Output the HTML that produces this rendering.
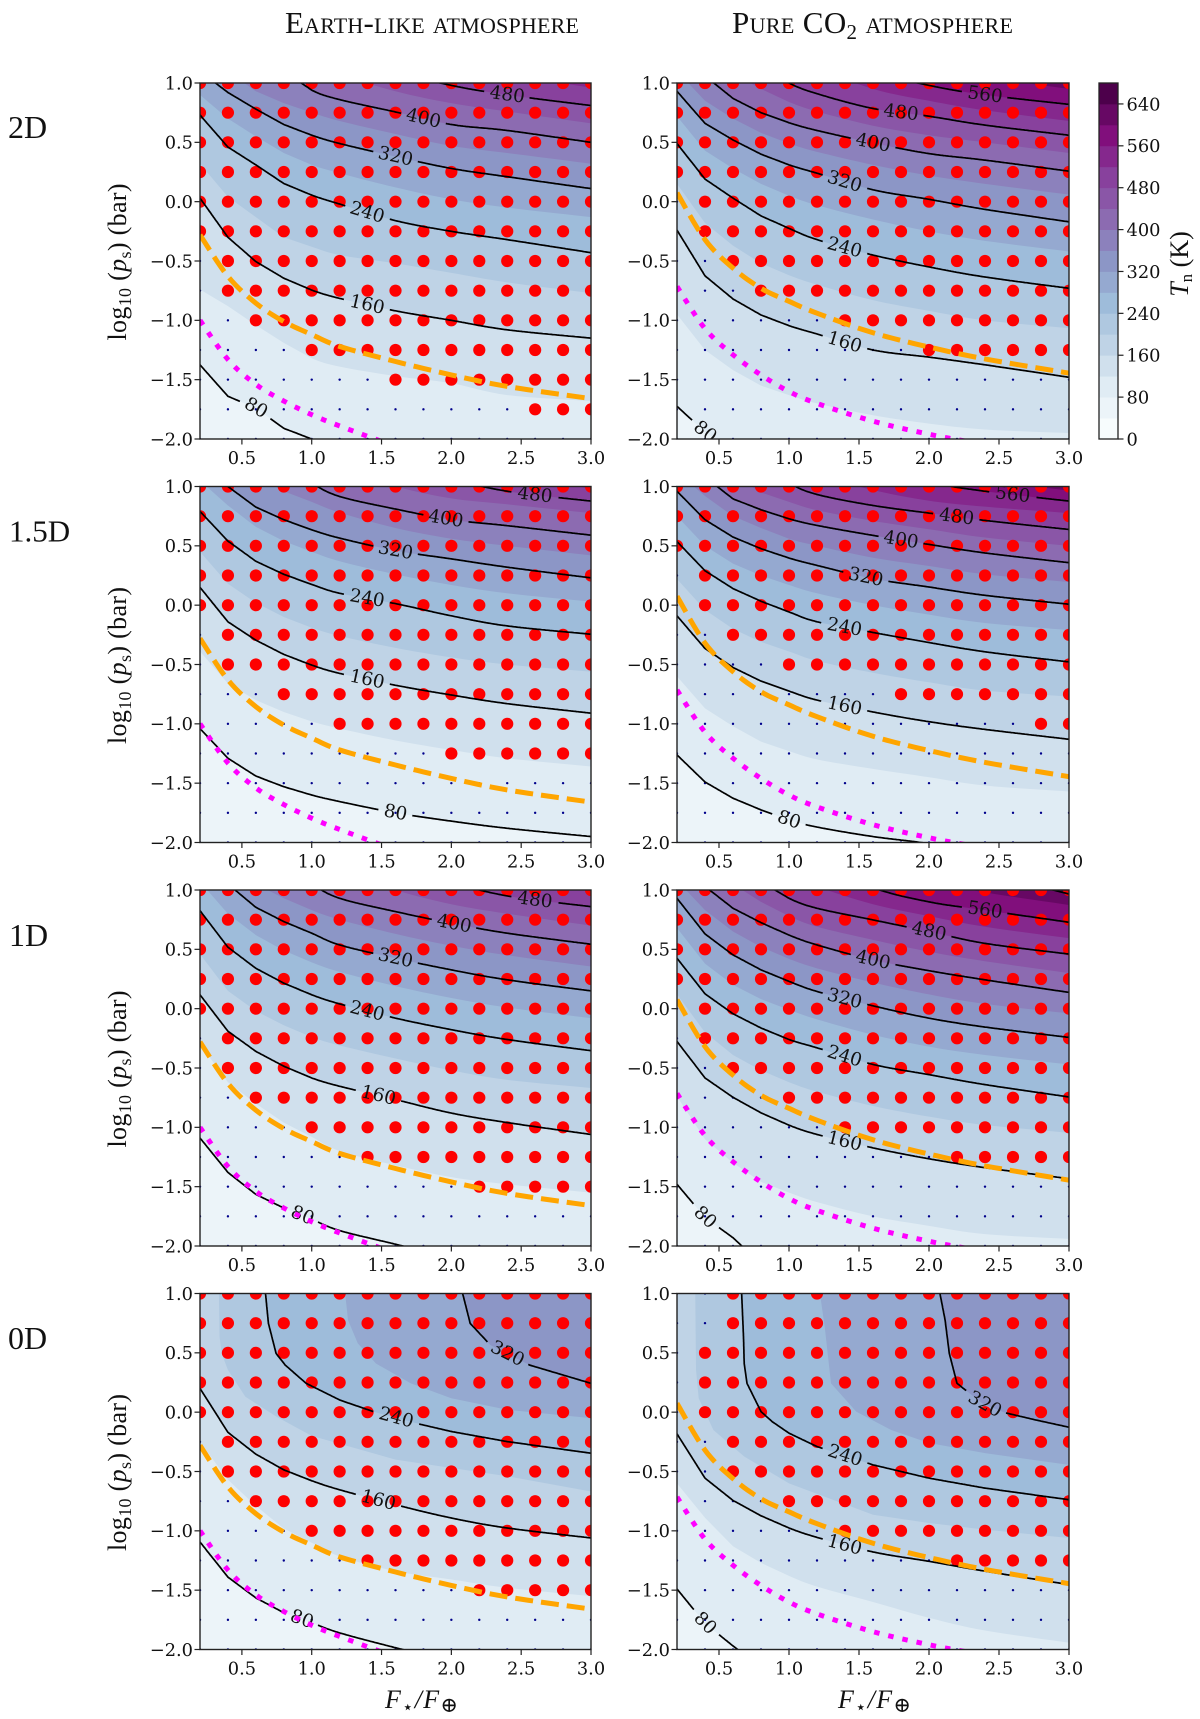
<!DOCTYPE html>
<html lang="en">
<head>
<meta charset="utf-8">
<title>Nightside temperature grid</title>
<style>
html,body{margin:0;padding:0;background:#fff;}
svg{display:block;}
.tick{font-family:"DejaVu Serif",serif;font-size:17.8px;fill:#111;}
.clabel{font-family:"DejaVu Serif",serif;font-size:18.4px;fill:#111;}
.serif{font-family:"Liberation Serif","DejaVu Serif",serif;fill:#111;}
</style>
</head>
<body>
<svg id="figure" xmlns="http://www.w3.org/2000/svg" width="1200" height="1719" viewBox="0 0 1200 1719">
  <rect width="1200" height="1719" fill="#fff"/>
  <text class="serif" x="285" y="33" font-size="31" textLength="294" style="font-variant:small-caps">Earth-like atmosphere</text>
  <text class="serif" x="732" y="33" font-size="31" textLength="281" style="font-variant:small-caps">Pure CO<tspan font-size="21" dy="6">2</tspan><tspan dy="-6"> atmosphere</tspan></text>
  <text class="serif" x="8" y="138" font-size="32">2D</text>
  <text class="serif" x="9" y="541.5" font-size="31">1.5D</text>
  <text class="serif" x="9" y="946" font-size="32">1D</text>
  <text class="serif" x="8" y="1349" font-size="32">0D</text>
  <text class="serif" x="385" y="1708" font-size="26" textLength="73"><tspan font-style="italic">F</tspan><tspan font-size="18" dy="5">⋆</tspan><tspan dy="-5" font-style="italic">/F</tspan><tspan font-size="21" dy="4">⊕</tspan></text>
  <text class="serif" x="838" y="1708" font-size="26" textLength="73"><tspan font-style="italic">F</tspan><tspan font-size="18" dy="5">⋆</tspan><tspan dy="-5" font-style="italic">/F</tspan><tspan font-size="21" dy="4">⊕</tspan></text>
  <text class="serif" x="0" y="0" font-size="26" text-anchor="middle" transform="translate(1188 264) rotate(-90)"><tspan font-style="italic">T</tspan><tspan font-size="17" dy="4">n</tspan><tspan dy="-4"> (K)</tspan></text>
  <g id="panels"></g>
  <g id="colorbar"></g>
</svg>
<script>
// Shared axes and grids
const fluxNodes = [0.2,0.4,0.6,0.8,1.0,1.2,1.6,2.0,2.4,3.0];
const fluxColumns = [0.2,0.4,0.6,0.8,1.0,1.2,1.4,1.6,1.8,2.0,2.2,2.4,2.6,2.8,3.0];
const pressureRows = [-2,-1.75,-1.5,-1.25,-1,-0.75,-0.5,-0.25,0,0.25,0.5,0.75,1];
const xTickValues = [0.5,1.0,1.5,2.0,2.5,3.0];
const yTickValues = [-2,-1.5,-1,-0.5,0,0.5,1];
const colorTickValues = [0,80,160,240,320,400,480,560,640];
const colorLevels = [0,40,80,120,160,200,240,280,320,360,400,440,480,520,560,600,640,680];
const paletteStops = ['#f7fcfd','#e0ecf4','#bfd3e6','#9ebcda','#8c96c6','#8c6bb1','#88419d','#810f7c','#4d004b'];

// Reference curves shared by atmosphere
const earthOrange = [-0.28,-0.63,-0.855,-1.01,-1.12,-1.22,-1.347,-1.46,-1.557,-1.66];
const co2Orange = [0.075,-0.32,-0.56,-0.73,-0.84,-0.94,-1.105,-1.225,-1.325,-1.445];
const earthMagenta = [-1.0,-1.33,-1.54,-1.68,-1.795,-1.89,-2.06,-2.2,-2.32,-2.48];
const co2Magenta = [-0.715,-1.07,-1.29,-1.46,-1.6,-1.7,-1.85,-1.96,-2.05,-2.2];

// Earth-like, 2D: isotherm log10(ps) at fluxNodes
const earth2d_T80 = [-1.375,-1.64,-1.74,-1.91,-2.0,-2.1,-2.3,-2.4,-2.5,-2.6];
const earth2d_T120 = [-0.74,-0.88,-1.04,-1.19,-1.32,-1.39,-1.47,-1.53,-1.63,-1.68];
const earth2d_T160 = [0.03,-0.30,-0.505,-0.645,-0.745,-0.815,-0.92,-1.0,-1.08,-1.15];
const earth2d_T200 = [0.32,0.04,-0.13,-0.3,-0.38,-0.45,-0.52,-0.6,-0.68,-0.77];
const earth2d_T240 = [0.73,0.46,0.31,0.153,0.055,-0.02,-0.16,-0.25,-0.32,-0.43];
const earth2d_T280 = [0.9,0.7,0.55,0.41,0.31,0.24,0.12,0.02,-0.05,-0.13];
const earth2d_T320 = [1.1,0.92,0.78,0.65,0.56,0.49,0.38,0.28,0.21,0.11];
const earth2d_T360 = [1.25,1.1,0.93,0.83,0.75,0.68,0.57,0.47,0.41,0.32];
const earth2d_T400 = [1.45,1.3,1.2,1.1,0.94,0.86,0.756,0.65,0.6,0.5];
const earth2d_T440 = [1.6,1.5,1.4,1.25,1.15,1.07,0.93,0.83,0.76,0.66];
const earth2d_T480 = [1.8,1.7,1.6,1.5,1.4,1.3,1.1,0.98,0.9,0.81];
const earth2d_T520 = [2.0,1.9,1.8,1.7,1.6,1.5,1.35,1.2,1.08,0.96];
const earth2d_red = [-0.25,-0.75,-1,-1,-1.25,-1.25,-1.25,-1.5,-1.5,-1.5,-1.5,-1.5,-1.75,-1.75,-1.75];

// Pure CO2, 2D
const co22d_T80 = [-1.725,-1.94,-2.1,-2.2,-2.3,-2.4,-2.5,-2.6,-2.7,-2.8];
const co22d_T120 = [-0.95,-1.25,-1.42,-1.55,-1.63,-1.7,-1.8,-1.87,-1.92,-1.95];
const co22d_T160 = [-0.24,-0.625,-0.82,-0.955,-1.045,-1.115,-1.25,-1.31,-1.375,-1.48];
const co22d_T200 = [0.15,-0.18,-0.37,-0.52,-0.62,-0.7,-0.83,-0.92,-1.0,-1.066];
const co22d_T240 = [0.49,0.19,0.03,-0.12,-0.225,-0.32,-0.45,-0.55,-0.635,-0.73];
const co22d_T280 = [0.72,0.43,0.28,0.15,0.05,-0.03,-0.15,-0.25,-0.33,-0.42];
const co22d_T320 = [0.93,0.66,0.52,0.4,0.31,0.24,0.1,0.02,-0.065,-0.17];
const co22d_T360 = [1.1,0.85,0.7,0.58,0.49,0.42,0.31,0.22,0.15,0.06];
const co22d_T400 = [1.25,1.06,0.87,0.75,0.665,0.6,0.495,0.405,0.35,0.257];
const co22d_T440 = [1.5,1.25,1.08,0.95,0.84,0.76,0.64,0.56,0.5,0.41];
const co22d_T480 = [1.75,1.5,1.3,1.15,1.0,0.91,0.785,0.72,0.645,0.56];
const co22d_T520 = [1.95,1.75,1.55,1.4,1.25,1.13,0.95,0.85,0.77,0.68];
const co22d_T560 = [2.2,2.0,1.8,1.6,1.45,1.3,1.1,0.98,0.9,0.82];
const co22d_T600 = [2.5,2.3,2.1,1.9,1.7,1.55,1.3,1.15,1.05,0.95];
const co22d_red = [0.25,-0.25,-0.5,-0.75,-0.75,-0.75,-1,-1,-1,-1.25,-1.25,-1.25,-1.25,-1.25,-1.25];

// Earth-like, 1.5D
const earth15d_T80 = [-1.04,-1.29,-1.44,-1.53,-1.6,-1.655,-1.75,-1.82,-1.88,-1.95];
const earth15d_T120 = [-0.39,-0.66,-0.8,-0.9,-0.98,-1.04,-1.14,-1.22,-1.29,-1.36];
const earth15d_T160 = [0.15,-0.14,-0.295,-0.415,-0.505,-0.575,-0.675,-0.757,-0.83,-0.91];
const earth15d_T200 = [0.45,0.18,0.02,-0.1,-0.19,-0.26,-0.36,-0.44,-0.5,-0.56];
const earth15d_T240 = [0.79,0.54,0.37,0.26,0.175,0.1,0.013,-0.09,-0.175,-0.245];
const earth15d_T280 = [1.05,0.84,0.66,0.54,0.45,0.37,0.26,0.17,0.1,0.03];
const earth15d_T320 = [1.3,1.0,0.826,0.72,0.635,0.565,0.46,0.39,0.32,0.23];
const earth15d_T360 = [1.5,1.3,1.1,0.96,0.87,0.78,0.65,0.56,0.5,0.42];
const earth15d_T400 = [1.8,1.6,1.4,1.2,1.03,0.916,0.81,0.72,0.67,0.59];
const earth15d_T440 = [1.9,1.7,1.55,1.4,1.25,1.15,1.0,0.9,0.85,0.776];
const earth15d_T480 = [2.3,2.1,1.95,1.75,1.6,1.45,1.25,1.07,0.96,0.877];
const earth15d_T520 = [2.6,2.4,2.2,2.0,1.8,1.7,1.45,1.25,1.12,0.98];
const earth15d_red = [0,-0.5,-0.5,-0.75,-0.75,-1,-1,-1,-1,-1.25,-1.25,-1.25,-1.25,-1.25,-1.25];

// Pure CO2, 1.5D
const co215d_T80 = [-1.262,-1.49,-1.627,-1.725,-1.81,-1.87,-1.95,-2.01,-2.1,-2.2];
const co215d_T120 = [-0.6,-0.87,-1.02,-1.15,-1.23,-1.3,-1.38,-1.45,-1.52,-1.57];
const co215d_T160 = [-0.09,-0.365,-0.525,-0.64,-0.724,-0.8,-0.9,-0.982,-1.047,-1.13];
const co215d_T200 = [0.22,-0.04,-0.2,-0.31,-0.39,-0.47,-0.57,-0.65,-0.72,-0.77];
const co215d_T240 = [0.536,0.29,0.14,0.033,-0.057,-0.14,-0.23,-0.315,-0.393,-0.478];
const co215d_T280 = [0.75,0.5,0.35,0.25,0.17,0.1,0,-0.08,-0.15,-0.21];
const co215d_T320 = [0.96,0.72,0.574,0.476,0.397,0.335,0.223,0.153,0.083,0.008];
const co215d_T360 = [1.12,0.92,0.75,0.65,0.56,0.5,0.4,0.33,0.26,0.195];
const co215d_T400 = [1.3,1.08,0.896,0.804,0.728,0.672,0.588,0.512,0.44,0.358];
const co215d_T440 = [1.5,1.3,1.1,0.95,0.87,0.8,0.71,0.64,0.57,0.5];
const co215d_T480 = [1.8,1.6,1.4,1.2,1.03,0.933,0.84,0.776,0.714,0.638];
const co215d_T520 = [1.9,1.7,1.5,1.35,1.2,1.1,0.97,0.88,0.83,0.776];
const co215d_T560 = [2.3,2.1,1.9,1.7,1.55,1.4,1.2,1.04,0.96,0.877];
const co215d_T600 = [2.5,2.3,2.1,1.9,1.75,1.6,1.35,1.15,1.05,0.966];
const co215d_red = [0.5,0,-0.25,-0.25,-0.5,-0.5,-0.5,-0.5,-0.75,-0.75,-0.75,-0.75,-0.75,-1,-1];

// Earth-like, 1D
const earth1d_T80 = [-1.09,-1.38,-1.565,-1.68,-1.775,-1.87,-1.985,-2.1,-2.2,-2.3];
const earth1d_T120 = [-0.3,-0.62,-0.8,-0.96,-1.08,-1.2,-1.32,-1.42,-1.48,-1.55];
const earth1d_T160 = [0.117,-0.19,-0.36,-0.485,-0.584,-0.654,-0.766,-0.88,-0.96,-1.06];
const earth1d_T200 = [0.46,0.15,-0.02,-0.14,-0.24,-0.31,-0.42,-0.52,-0.6,-0.668];
const earth1d_T240 = [0.826,0.518,0.34,0.215,0.117,0.04,-0.08,-0.177,-0.26,-0.354];
const earth1d_T280 = [1.07,0.8,0.62,0.49,0.39,0.31,0.19,0.09,0.01,-0.08];
const earth1d_T320 = [1.3,1.05,0.854,0.734,0.636,0.537,0.425,0.327,0.243,0.15];
const earth1d_T360 = [1.5,1.25,1.05,0.93,0.83,0.75,0.63,0.53,0.45,0.355];
const earth1d_T400 = [1.85,1.6,1.4,1.2,1.05,0.93,0.818,0.72,0.636,0.543];
const earth1d_T440 = [1.9,1.7,1.55,1.4,1.27,1.17,1.0,0.88,0.8,0.7];
const earth1d_T480 = [2.3,2.1,1.95,1.75,1.6,1.45,1.25,1.07,0.95,0.86];
const earth1d_T520 = [2.6,2.4,2.2,2.0,1.8,1.7,1.45,1.25,1.12,0.99];
const earth1d_red = [0,-0.5,-0.75,-0.75,-1,-1,-1.25,-1.25,-1.25,-1.25,-1.5,-1.5,-1.5,-1.5,-1.5];

// Pure CO2, 1D
const co21d_T80 = [-1.48,-1.76,-1.93,-2.15,-2.3,-2.4,-2.5,-2.6,-2.7,-2.8];
const co21d_T120 = [-0.74,-1.1,-1.3,-1.46,-1.55,-1.63,-1.75,-1.83,-1.9,-1.94];
const co21d_T160 = [-0.276,-0.584,-0.747,-0.878,-0.982,-1.06,-1.173,-1.265,-1.34,-1.433];
const co21d_T200 = [0.12,-0.2,-0.39,-0.52,-0.62,-0.7,-0.82,-0.91,-0.98,-1.046];
const co21d_T240 = [0.425,0.125,-0.043,-0.163,-0.26,-0.33,-0.47,-0.556,-0.64,-0.744];
const co21d_T280 = [0.68,0.38,0.2,0.08,-0.01,-0.09,-0.22,-0.32,-0.39,-0.47];
const co21d_T320 = [0.93,0.63,0.453,0.327,0.23,0.145,0.024,-0.08,-0.155,-0.242];
const co21d_T360 = [1.08,0.83,0.65,0.52,0.42,0.34,0.22,0.12,0.04,-0.04];
const co21d_T400 = [1.25,1.03,0.846,0.725,0.62,0.537,0.41,0.32,0.243,0.137];
const co21d_T440 = [1.45,1.23,1.05,0.9,0.78,0.69,0.58,0.48,0.4,0.3];
const co21d_T480 = [1.7,1.45,1.25,1.07,0.93,0.846,0.748,0.65,0.55,0.46];
const co21d_T520 = [1.9,1.65,1.45,1.3,1.15,1.03,0.88,0.78,0.69,0.594];
const co21d_T560 = [2.2,1.95,1.75,1.55,1.4,1.25,1.02,0.9,0.83,0.728];
const co21d_T600 = [2.4,2.15,1.95,1.75,1.6,1.45,1.22,1.08,0.98,0.874];
const co21d_T640 = [2.6,2.4,2.2,2.0,1.85,1.7,1.45,1.3,1.15,0.966];
const co21d_red = [0.25,-0.25,-0.5,-0.5,-0.75,-0.75,-1,-1,-1,-1,-1.25,-1.25,-1.25,-1.25,-1.25];

// Earth-like, 0D: steep isotherms are [flux, log10(ps)] pairs
const earth0d_T80 = [-1.094,-1.39,-1.565,-1.69,-1.775,-1.86,-1.985,-2.1,-2.2,-2.3];
const earth0d_T120 = [-0.25,-0.57,-0.79,-0.98,-1.1,-1.215,-1.34,-1.41,-1.48,-1.55];
const earth0d_T160 = [0.2,-0.17,-0.354,-0.486,-0.578,-0.654,-0.78,-0.892,-0.976,-1.06];
const earth0d_T200 = [[0.335,1.05],[0.34,0.635],[0.355,0.495],[0.4,0.355],[0.525,0.13],[0.75,-0.04],[1,-0.2],[1.6,-0.4],[2.4,-0.54],[3,-0.668]];
const earth0d_T240 = [[0.665,1.05],[0.69,0.748],[0.745,0.495],[0.81,0.397],[0.96,0.243],[1.2,0.103],[1.44,0.005],[1.77,-0.1],[2,-0.163],[2.4,-0.248],[3,-0.346]];
const earth0d_T280 = [[1.235,1.05],[1.26,0.776],[1.33,0.58],[1.46,0.41],[1.71,0.243],[2,0.117],[2.4,0.02],[3,-0.05]];
const earth0d_T320 = [[2.07,1.05],[2.135,0.748],[2.28,0.565],[2.56,0.397],[3,0.243]];
const earth0d_red = [0,-0.5,-0.75,-0.75,-1,-1,-1.25,-1.25,-1.25,-1.25,-1.5,-1.5,-1.5,-1.5,-1.5];

// Pure CO2, 0D
const co20d_T80 = [-1.49,-1.78,-1.97,-2.15,-2.3,-2.4,-2.5,-2.6,-2.7,-2.8];
const co20d_T120 = [-0.6,-0.89,-1.13,-1.27,-1.38,-1.47,-1.6,-1.733,-1.84,-1.943];
const co20d_T160 = [-0.183,-0.556,-0.744,-0.873,-0.976,-1.055,-1.178,-1.257,-1.34,-1.453];
const co20d_T200 = [[0.33,1.05],[0.336,0.355],[0.355,0.117],[0.46,-0.15],[0.68,-0.374],[1,-0.6],[1.6,-0.864],[2,-0.934],[2.4,-0.99],[3,-1.06]];
const co20d_T240 = [[0.66,1.05],[0.675,0.635],[0.68,0.41],[0.7,0.243],[0.8,0.005],[0.88,-0.08],[1,-0.177],[1.2,-0.29],[1.6,-0.444],[2,-0.556],[2.4,-0.64],[3,-0.738]];
const co20d_T280 = [[1.215,1.05],[1.255,0.72],[1.3,0.243],[1.48,0.005],[1.73,-0.15],[2,-0.26],[2.4,-0.345],[3,-0.444]];
const co20d_T320 = [[2.07,1.05],[2.115,0.776],[2.145,0.495],[2.2,0.243],[2.38,0.075],[2.54,-0.004],[2.76,-0.065],[3,-0.127]];
const co20d_red = [2,0,-0.5,-0.5,-0.75,-0.75,-1,-1,-1,-1,-1.25,-1.25,-1.25,-1.25,-1.25];
const co20d_redTop = [1,0.5,1,1,1,1,1,1,1,1,1,1,1,1,1];

// Flux at which each inline contour label sits, in order of its level
const earth2d_labels = [[80,0.6],[160,1.4],[240,1.4],[320,1.6],[400,1.8],[480,2.4]];
const co22d_labels = [[80,0.4],[160,1.4],[240,1.4],[320,1.4],[400,1.6],[480,1.8],[560,2.4]];
const earth15d_labels = [[80,1.6],[160,1.4],[240,1.4],[320,1.6],[400,1.96],[480,2.6]];
const co215d_labels = [[80,1.0],[160,1.4],[240,1.4],[320,1.55],[400,1.8],[480,2.2],[560,2.6]];
const earth1d_labels = [[80,0.93],[160,1.48],[240,1.4],[320,1.6],[400,2.02],[480,2.6]];
const co21d_labels = [[80,0.4],[160,1.4],[240,1.4],[320,1.4],[400,1.6],[480,2.0],[560,2.4]];
const earth0d_labels = [[80,0.93],[160,1.48],[240,1.6],[320,2.4]];
const co20d_labels = [[80,0.4],[160,1.4],[240,1.4],[320,2.4]];

const NS = 'http://www.w3.org/2000/svg';
function make(tag, attrs, parent) {
  const el = document.createElementNS(NS, tag);
  for (const k in attrs) el.setAttribute(k, attrs[k]);
  parent.appendChild(el);
  return el;
}
function hexToRgb(h) {
  return [parseInt(h.slice(1,3),16),parseInt(h.slice(3,5),16),parseInt(h.slice(5,7),16)];
}
function bandColor(i) {
  const t = i / 2;
  const a = Math.min(Math.floor(t), paletteStops.length - 1);
  const b = Math.min(a + 1, paletteStops.length - 1);
  const f = t - a;
  const ca = hexToRgb(paletteStops[a]);
  const cb = hexToRgb(paletteStops[b]);
  return 'rgb(' + ca.map((v, k) => Math.round(v + (cb[k] - v) * f)).join(',') + ')';
}
// Catmull-Rom densification from segment index fromIdx onward; earlier segments stay straight
function densify(pts, fromIdx) {
  const out = [];
  for (let i = 0; i < pts.length - 1; i++) {
    if (i < fromIdx) { out.push(pts[i]); continue; }
    const p0 = pts[Math.max(0, i - 1)], p1 = pts[i], p2 = pts[i + 1], p3 = pts[Math.min(pts.length - 1, i + 2)];
    for (let k = 0; k < 8; k++) {
      const t = k / 8, t2 = t * t, t3 = t2 * t;
      out.push([0, 1].map(d => 0.5 * (2 * p1[d] + (p2[d] - p0[d]) * t + (2 * p0[d] - 5 * p1[d] + 4 * p2[d] - p3[d]) * t2 + (3 * p1[d] - p0[d] - 3 * p2[d] + p3[d]) * t3)));
    }
  }
  out.push(pts[pts.length - 1]);
  return out;
}
function toPairs(curve) {
  return typeof curve[0] === 'number' ? densify(fluxNodes.map((f, i) => [f, curve[i]]), 4) : curve;
}
function fmt(v) {
  return (v < 0 ? '\u2212' : '') + Math.abs(v).toFixed(1);
}

const panelTops = [83, 486.5, 890, 1293.5];
const panelLefts = [200, 677];
const panelWidths = [391, 392];
const panelHeight = 356;

const panelList = [
  {id:'earth-2d',row:0,col:0,red:earth2d_red,labels:earth2d_labels,orange:earthOrange,magenta:earthMagenta,
   curves:[[80,earth2d_T80],[120,earth2d_T120],[160,earth2d_T160],[200,earth2d_T200],[240,earth2d_T240],[280,earth2d_T280],[320,earth2d_T320],[360,earth2d_T360],[400,earth2d_T400],[440,earth2d_T440],[480,earth2d_T480],[520,earth2d_T520]]},
  {id:'co2-2d',row:0,col:1,red:co22d_red,labels:co22d_labels,orange:co2Orange,magenta:co2Magenta,
   curves:[[80,co22d_T80],[120,co22d_T120],[160,co22d_T160],[200,co22d_T200],[240,co22d_T240],[280,co22d_T280],[320,co22d_T320],[360,co22d_T360],[400,co22d_T400],[440,co22d_T440],[480,co22d_T480],[520,co22d_T520],[560,co22d_T560],[600,co22d_T600]]},
  {id:'earth-1-5d',row:1,col:0,red:earth15d_red,labels:earth15d_labels,orange:earthOrange,magenta:earthMagenta,
   curves:[[80,earth15d_T80],[120,earth15d_T120],[160,earth15d_T160],[200,earth15d_T200],[240,earth15d_T240],[280,earth15d_T280],[320,earth15d_T320],[360,earth15d_T360],[400,earth15d_T400],[440,earth15d_T440],[480,earth15d_T480],[520,earth15d_T520]]},
  {id:'co2-1-5d',row:1,col:1,red:co215d_red,labels:co215d_labels,orange:co2Orange,magenta:co2Magenta,
   curves:[[80,co215d_T80],[120,co215d_T120],[160,co215d_T160],[200,co215d_T200],[240,co215d_T240],[280,co215d_T280],[320,co215d_T320],[360,co215d_T360],[400,co215d_T400],[440,co215d_T440],[480,co215d_T480],[520,co215d_T520],[560,co215d_T560],[600,co215d_T600]]},
  {id:'earth-1d',row:2,col:0,red:earth1d_red,labels:earth1d_labels,orange:earthOrange,magenta:earthMagenta,
   curves:[[80,earth1d_T80],[120,earth1d_T120],[160,earth1d_T160],[200,earth1d_T200],[240,earth1d_T240],[280,earth1d_T280],[320,earth1d_T320],[360,earth1d_T360],[400,earth1d_T400],[440,earth1d_T440],[480,earth1d_T480],[520,earth1d_T520]]},
  {id:'co2-1d',row:2,col:1,red:co21d_red,labels:co21d_labels,orange:co2Orange,magenta:co2Magenta,
   curves:[[80,co21d_T80],[120,co21d_T120],[160,co21d_T160],[200,co21d_T200],[240,co21d_T240],[280,co21d_T280],[320,co21d_T320],[360,co21d_T360],[400,co21d_T400],[440,co21d_T440],[480,co21d_T480],[520,co21d_T520],[560,co21d_T560],[600,co21d_T600],[640,co21d_T640]]},
  {id:'earth-0d',row:3,col:0,red:earth0d_red,labels:earth0d_labels,orange:earthOrange,magenta:earthMagenta,
   curves:[[80,earth0d_T80],[120,earth0d_T120],[160,earth0d_T160],[200,earth0d_T200],[240,earth0d_T240],[280,earth0d_T280],[320,earth0d_T320]]},
  {id:'co2-0d',row:3,col:1,red:co20d_red,redTop:co20d_redTop,labels:co20d_labels,orange:co2Orange,magenta:co2Magenta,
   curves:[[80,co20d_T80],[120,co20d_T120],[160,co20d_T160],[200,co20d_T200],[240,co20d_T240],[280,co20d_T280],[320,co20d_T320]]}
];

function drawPanel(p) {
  const root = document.getElementById('panels');
  const left = panelLefts[p.col], top = panelTops[p.row], w = panelWidths[p.col], h = panelHeight;
  const xs = v => left + (v - 0.2) / 2.8 * w;
  const ys = v => top + (1 - v) / 3 * h;
  const pathOf = pts => pts.map((q, i) => (i ? 'L' : 'M') + xs(q[0]).toFixed(2) + ' ' + ys(q[1]).toFixed(2)).join('');

  const g = make('g', {}, root);
  
  

  const clipId = 'clip-' + p.id;
  const defs = make('defs', {}, g);
  const clip = make('clipPath', {id: clipId}, defs);
  make('rect', {x: left, y: top, width: w, height: h}, clip);

  const plot = make('g', {'clip-path': 'url(#' + clipId + ')'}, g);
  
  

  const base = make('rect', {x: left, y: top, width: w, height: h, fill: bandColor(1)}, plot);
  
  

  p.curves.forEach(c => {
    const pts = toPairs(c[1]);
    const closed = pts.concat([[pts[pts.length - 1][0], 3.5], [pts[0][0], 3.5]]);
    const band = make('path', {d: pathOf(closed) + 'Z', fill: bandColor(c[0] / 40)}, plot);
    
    
  });

  fluxColumns.forEach((f, ci) => {
    const floorP = p.red[ci];
    const ceilP = p.redTop ? p.redTop[ci] : 1;
    pressureRows.forEach(lp => {
      const isRed = lp >= floorP && lp <= ceilP;
      const dot = make('circle', {cx: xs(f), cy: ys(lp), r: isRed ? 6.1 : 1.2, fill: isRed ? '#fe0000' : '#00008b'}, plot);
      
      
    });
  });

  p.curves.filter(c => c[0] % 80 === 0).forEach(c => {
    const raw = toPairs(c[1]);
    const fine = [];
    for (let i = 0; i < raw.length - 1; i++) {
      const x0 = xs(raw[i][0]), y0 = ys(raw[i][1]), x1 = xs(raw[i + 1][0]), y1 = ys(raw[i + 1][1]);
      const n = Math.max(1, Math.ceil(Math.hypot(x1 - x0, y1 - y0) / 1.5));
      for (let k = 0; k < n; k++) fine.push([x0 + (x1 - x0) * k / n, y0 + (y1 - y0) * k / n]);
    }
    fine.push([xs(raw[raw.length - 1][0]), ys(raw[raw.length - 1][1])]);

    const lab = p.labels.find(l => l[0] === c[0]);
    let cx = null, cy = null, angle = 0, radius = 0;
    if (lab) {
      const target = xs(lab[1]);
      let best = 0;
      fine.forEach((q, i) => { if (Math.abs(q[0] - target) < Math.abs(fine[best][0] - target)) best = i; });
      cx = fine[best][0];
      cy = fine[best][1];
      const a = fine[Math.max(0, best - 9)], b = fine[Math.min(fine.length - 1, best + 9)];
      angle = Math.atan2(b[1] - a[1], b[0] - a[0]) * 180 / Math.PI;
      radius = String(c[0]).length * 5.8 + 5;
    }
    let d = '', pen = false;
    fine.forEach(q => {
      if (lab && Math.hypot(q[0] - cx, q[1] - cy) < radius) { pen = false; return; }
      d += (pen ? 'L' : 'M') + q[0].toFixed(1) + ' ' + q[1].toFixed(1);
      pen = true;
    });
    const line = make('path', {d: d, fill: 'none', stroke: '#000', 'stroke-width': 1.7}, plot);
    
    
    if (lab) {
      const t = make('text', {class: 'clabel', x: 0, y: 0, 'text-anchor': 'middle', 'dominant-baseline': 'central',
        transform: 'translate(' + cx.toFixed(1) + ' ' + cy.toFixed(1) + ') rotate(' + angle.toFixed(1) + ')'}, plot);
      t.textContent = String(c[0]);
      
      
    }
  });

  const orange = make('path', {d: pathOf(densify(fluxNodes.map((f, i) => [f, p.orange[i]]), 0)), fill: 'none', stroke: '#ffa500', 'stroke-width': 5, 'stroke-dasharray': '18 8'}, plot);
  
  
  const magenta = make('path', {d: pathOf(densify(fluxNodes.map((f, i) => [f, p.magenta[i]]), 0)), fill: 'none', stroke: '#ff00ff', 'stroke-width': 5, 'stroke-dasharray': '5.5 9'}, plot);
  
  

  const frame = make('rect', {x: left, y: top, width: w, height: h, fill: 'none', stroke: '#222', 'stroke-width': 1.4}, g);
  
  

  xTickValues.forEach(v => {
    const mark = make('line', {x1: xs(v), x2: xs(v), y1: top + h, y2: top + h + 5.5, stroke: '#222', 'stroke-width': 1.2}, g);
    
    
    const t = make('text', {class: 'tick', x: xs(v), y: top + h + 25, 'text-anchor': 'middle'}, g);
    t.textContent = fmt(v);
    
    
  });
  yTickValues.forEach(v => {
    const mark = make('line', {x1: left - 5.5, x2: left, y1: ys(v), y2: ys(v), stroke: '#222', 'stroke-width': 1.2}, g);
    
    
    const t = make('text', {class: 'tick', x: left - 7, y: ys(v) + 6.4, 'text-anchor': 'end'}, g);
    t.textContent = fmt(v);
    
    
  });

  if (p.col === 0) {
    const lx = 126, ly = top + h / 2 + 1;
    const yl = make('text', {class: 'serif', x: 0, y: 0, 'font-size': 26, 'text-anchor': 'middle', textLength: 157,
      transform: 'translate(' + lx + ' ' + ly + ') rotate(-90)'}, g);
    
    
    const parts = [['log', {}], ['10', {'font-size': 18, dy: 5}], [' (', {dy: -5}], ['p', {'font-style': 'italic'}], ['s', {'font-size': 18, dy: 5}], [') (bar)', {dy: -5}]];
    parts.forEach(part => {
      const s = make('tspan', part[1], yl);
      s.textContent = part[0];
    });
  }
}
panelList.forEach(drawPanel);

(function drawColorbar() {
  const cb = document.getElementById('colorbar');
  const left = 1099, right = 1118, top = 83, bottom = 439;
  const vs = v => bottom - v / 680 * (bottom - top);
  for (let i = 0; i < colorLevels.length - 1; i++) {
    const seg = make('rect', {x: left, y: vs(colorLevels[i + 1]), width: right - left, height: vs(colorLevels[i]) - vs(colorLevels[i + 1]) + 0.4, fill: bandColor(i)}, cb);
    
    
  }
  const frame = make('rect', {x: left, y: top, width: right - left, height: bottom - top, fill: 'none', stroke: '#222', 'stroke-width': 1.3}, cb);
  
  
  colorTickValues.forEach(v => {
    const mark = make('line', {x1: right, x2: right + 5.5, y1: vs(v), y2: vs(v), stroke: '#222', 'stroke-width': 1.2}, cb);
    
    
    const t = make('text', {class: 'tick', x: right + 8.5, y: vs(v) + 6.4}, cb);
    t.textContent = String(v);
    
    
  });
})();
</script>
</body>
</html>
